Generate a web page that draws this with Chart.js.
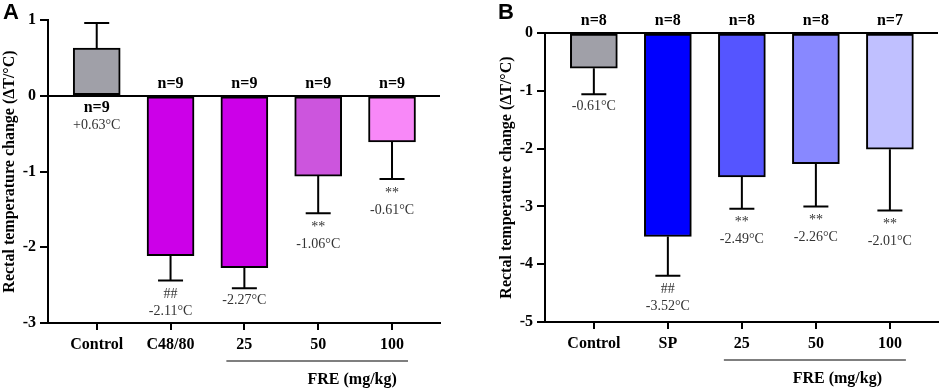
<!DOCTYPE html>
<html>
<head>
<meta charset="utf-8">
<script src="https://cdn.jsdelivr.net/npm/chart.js@4.4.1/dist/chart.umd.min.js"></script>
<style>
  body { margin: 0; background: #fff; }
  .panel { position: absolute; top: 0; height: 390px; }
  #panel-a { left: 0; width: 470px; }
  #panel-b { left: 470px; width: 471px; }
</style>
</head>
<body>
<div class="panel" id="panel-a"><canvas id="chart-a"></canvas></div>
<div class="panel" id="panel-b"><canvas id="chart-b"></canvas></div>
<script>
// panel A
const groupsA = ['Control', 'C48/80', '25', '50', '100']
const meansA = [0.63, -2.11, -2.27, -1.06, -0.61]
const semA = [0.33, 0.33, 0.27, 0.49, 0.49]
const nA = ['n=9', 'n=9', 'n=9', 'n=9', 'n=9']
const marksA = ['', '##', '', '**', '**']
const valueTextA = ['+0.63°C', '-2.11°C', '-2.27°C', '-1.06°C', '-0.61°C']
const colorsA = ['#a0a0a8', '#cc00e8', '#cc00e8', '#cc55dd', '#f888f8']

// panel B
const groupsB = ['Control', 'SP', '25', '50', '100']
const meansB = [-0.61, -3.52, -2.49, -2.26, -2.01]
const semB = [0.45, 0.68, 0.55, 0.74, 1.06]
const nB = ['n=8', 'n=8', 'n=8', 'n=8', 'n=7']
const marksB = ['', '##', '**', '**', '**']
const valueTextB = ['-0.61°C', '-3.52°C', '-2.49°C', '-2.26°C', '-2.01°C']
const colorsB = ['#a0a0a8', '#0000ff', '#5555ff', '#8888ff', '#c0c0ff']

const yTitle = 'Rectal temperature change (ΔT/°C)'
const groupTitle = 'FRE (mg/kg)'

const SERIF = '"Liberation Serif", "Times New Roman", serif'

// error bars, n labels, value notes, FRE bracket, panel letter
const extras = {
    id: 'extras',
    afterDatasetsDraw(chart, args, opts) {
        const ctx = chart.ctx
        const meta = chart.getDatasetMeta(0)
        const y = chart.scales.y
        const x = chart.scales.x
        const zero = y.getPixelForValue(0)
        ctx.save()
        meta.data.forEach((bar, i) => {
            const m = opts.means[i]
            const sign = m >= 0 ? 1 : -1
            const top = y.getPixelForValue(m)
            const end = y.getPixelForValue(m + sign * opts.sem[i])
            ctx.strokeStyle = '#000'
            ctx.lineWidth = 2
            ctx.beginPath()
            ctx.moveTo(bar.x, top)
            ctx.lineTo(bar.x, end)
            ctx.moveTo(bar.x - 12.5, end)
            ctx.lineTo(bar.x + 12.5, end)
            ctx.stroke()

            ctx.textAlign = 'center'
            ctx.textBaseline = 'middle'
            ctx.fillStyle = '#000'
            ctx.font = 'bold 16px ' + SERIF
            if (m >= 0) {
                ctx.fillText(opts.n[i], bar.x, zero + 12)
                ctx.font = '14px ' + SERIF
                ctx.fillStyle = '#333'
                ctx.fillText(opts.values[i], bar.x, zero + 30)
            } else {
                ctx.fillText(opts.n[i], bar.x, zero - 12)
                ctx.font = '14px ' + SERIF
                ctx.fillStyle = '#333'
                if (opts.marks[i]) {
                    ctx.fillText(opts.marks[i], bar.x, end + 14)
                    ctx.fillText(opts.values[i], bar.x, end + 31)
                } else {
                    ctx.fillText(opts.values[i], bar.x, end + 12)
                }
            }
        })

        // bracket under the FRE doses
        const lineY = chart.chartArea.bottom + 38
        ctx.strokeStyle = '#555'
        ctx.lineWidth = 1.5
        ctx.beginPath()
        ctx.moveTo(x.getPixelForValue(2) - 18, lineY)
        ctx.lineTo(x.getPixelForValue(4) + 16, lineY)
        ctx.stroke()
        ctx.fillStyle = '#000'
        ctx.font = 'bold 16px ' + SERIF
        ctx.textAlign = 'center'
        ctx.fillText(groupTitle, x.getPixelForValue(opts.groupAt), lineY + 19)

        ctx.font = 'bold 22px "Liberation Sans", Arial, sans-serif'
        ctx.textAlign = 'left'
        ctx.textBaseline = 'top'
        ctx.fillText(opts.letter, opts.letterX, 2)
        ctx.restore()
    }
}

function makeChart(canvas, cfg) {
    return new Chart(canvas.getContext('2d'), {
        type: 'bar',
        data: {
            datasets: [{
                data: cfg.means.map((v, i) => ({ x: i, y: v })),
                backgroundColor: cfg.colors,
                borderColor: '#000',
                borderWidth: 2,
                borderSkipped: false,
                barThickness: 47
            }]
        },
        options: {
            responsive: true,
            maintainAspectRatio: false,
            animation: false,
            layout: { padding: cfg.padding },
            plugins: {
                legend: { display: false },
                tooltip: { enabled: false },
                extras: {
                    means: cfg.means, sem: cfg.sem, n: cfg.n, marks: cfg.marks,
                    values: cfg.values, letter: cfg.letter, letterX: cfg.letterX,
                    groupAt: cfg.groupAt
                }
            },
            scales: {
                x: {
                    type: 'linear',
                    offset: false,
                    min: -0.66,
                    max: 4.65,
                    afterBuildTicks: s => { s.ticks = cfg.groups.map((g, i) => ({ value: i })) },
                    afterFit: s => { s.height = cfg.xHeight },
                    ticks: {
                        callback: v => cfg.groups[v],
                        color: '#000',
                        font: { family: SERIF, size: 16, weight: 'bold' },
                        padding: 5,
                        maxRotation: 0,
                        autoSkip: false
                    },
                    grid: { offset: false, drawOnChartArea: false, tickLength: 7, tickColor: '#000', lineWidth: 2 },
                    border: { color: '#000', width: 2 }
                },
                y: {
                    min: cfg.yMin,
                    max: cfg.yMax,
                    afterFit: s => { s.width = 48 },
                    ticks: {
                        stepSize: 1,
                        color: '#000',
                        font: { family: SERIF, size: 16, weight: 'bold' },
                        padding: 4
                    },
                    grid: {
                        color: c => c.tick && c.tick.value === 0 ? '#000' : 'rgba(0,0,0,0)',
                        tickColor: '#000',
                        tickLength: 8,
                        lineWidth: 2
                    },
                    border: { color: '#000', width: 2 },
                    title: {
                        display: true,
                        text: yTitle,
                        color: '#000',
                        font: { family: SERIF, size: 16, weight: 'bold' },
                        padding: { top: 0, bottom: 0 }
                    }
                }
            }
        },
        plugins: [extras]
    })
}

makeChart(document.querySelector('#chart-a'), {
    groups: groupsA, means: meansA, sem: semA, n: nA, marks: marksA,
    values: valueTextA, colors: colorsA, yMin: -3, yMax: 1,
    padding: { left: 0, right: 30, top: 20, bottom: 0 },
    xHeight: 67, letter: 'A', letterX: 3, groupAt: 3.46
})

makeChart(document.querySelector('#chart-b'), {
    groups: groupsB, means: meansB, sem: semB, n: nB, marks: marksB,
    values: valueTextB, colors: colorsB, yMin: -5, yMax: 0,
    padding: { left: 27, right: 3, top: 33, bottom: 0 },
    xHeight: 68, letter: 'B', letterX: 28, groupAt: 3.29
})
</script>
</body>
</html>
